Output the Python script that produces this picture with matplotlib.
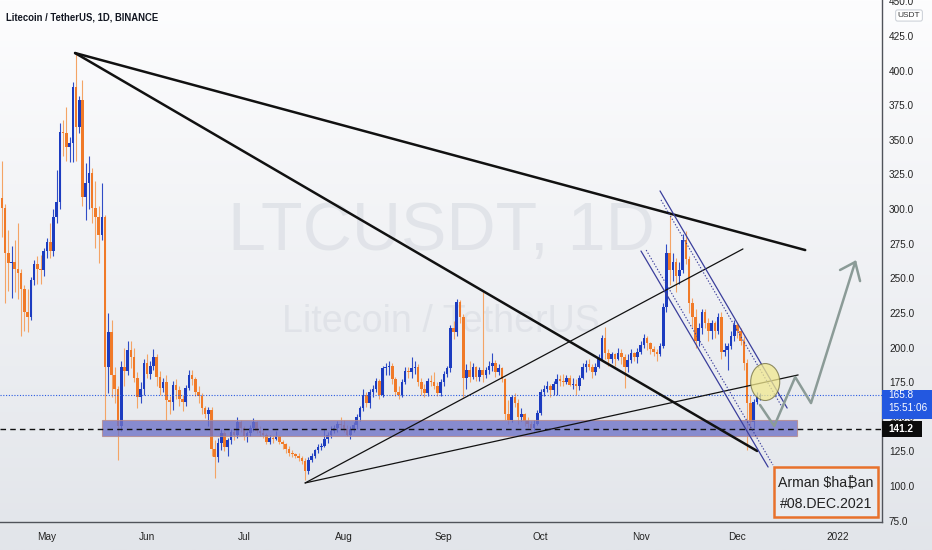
import numpy as np
import pandas as pd
import matplotlib
matplotlib.use("Agg")
import matplotlib.pyplot as plt
from matplotlib.patches import Rectangle, Ellipse
from matplotlib import transforms
from matplotlib import font_manager as fm

# ---------------- data (LTC/USDT daily) ----------------
start_date = "2021-04-17"
end_date = "2021-12-08"
first_open = 308.0

closes = [
    # Apr 17-30
    301, 268, 261, 262, 257, 254, 242, 226, 222, 249, 260, 257, 256, 270,
    # May
    276, 270, 294, 305, 356, 355, 345, 348, 388, 359, 379, 309, 319, 326, 301, 294,
    281, 294, 186, 211, 180, 170, 143, 186, 183, 198, 193, 178, 164, 170, 189,
    # Jun
    181, 187, 193, 179, 171, 175, 162, 161, 173, 169, 163, 161, 171, 180, 177, 168,
    165, 156, 152, 155, 127, 121, 131, 138, 128, 133, 139, 137, 146, 142,
    # Jul
    136, 138, 142, 146, 140, 138, 137, 132, 135, 134, 136, 132, 130, 127, 124, 123,
    122, 120, 118, 111, 119, 122, 126, 128, 129, 134, 137, 140, 142, 145, 144,
    # Aug
    141, 137, 141, 144, 150, 156, 166, 160, 168, 170, 176, 166, 185, 186, 187, 177,
    168, 166, 175, 183, 182, 185, 186, 175, 170, 167, 176, 175, 172, 167, 175,
    # Sep
    181, 185, 214, 211, 233, 222, 178, 184, 179, 186, 179, 184, 180, 184, 187, 189,
    182, 185, 177, 152, 148, 164, 160, 150, 152, 147, 145, 142, 145, 153,
    # Oct
    168, 170, 172, 169, 174, 177, 176, 175, 178, 173, 174, 172, 178, 186, 188, 186,
    182, 186, 192, 207, 196, 192, 195, 192, 196, 193, 186, 191, 196, 193, 197,
    # Nov
    202, 207, 203, 199, 197, 195, 201, 229, 268, 256, 262, 252, 256, 278, 264, 232,
    222, 205, 214, 226, 218, 212, 218, 212, 222, 197, 198, 201, 208, 216,
    # Dec 1-8
    212, 205, 189, 160, 146, 161, 164, 165.8,
]

highs = [
    335, 304, 285, 273, 278, 290, 257, 245, 242, 251, 263, 266, 267, 272,
    279, 290, 300, 328, 362, 364, 374, 352, 392, 413, 382, 393, 333, 338, 330, 320,
    302, 319, 296, 225, 220, 186, 172, 190, 200, 205, 205, 200, 182, 175, 192,
    195, 190, 199, 195, 183, 178, 180, 165, 176, 177, 172, 166, 173, 184, 184, 179,
    172, 167, 158, 157, 157, 133, 135, 141, 140, 135, 141, 142, 150, 148,
    143, 140, 144, 149, 147, 143, 141, 138, 137, 137, 140, 137, 133, 131, 129, 126,
    124, 124, 122, 120, 121, 124, 127, 130, 131, 141, 139, 143, 144, 147, 150,
    148, 144, 143, 146, 152, 158, 170, 168, 170, 173, 178, 177, 187, 189, 190, 189,
    179, 172, 177, 186, 186, 193, 190, 188, 178, 174, 178, 180, 182, 175, 177,
    183, 187, 216, 219, 235, 234, 224, 188, 190, 189, 187, 186, 240, 186, 190, 196,
    191, 188, 186, 178, 162, 166, 167, 163, 156, 153, 150, 147, 148, 155,
    170, 173, 176, 174, 176, 181, 180, 181, 180, 180, 178, 177, 180, 189, 191, 192,
    188, 189, 195, 209, 215, 199, 197, 196, 200, 199, 195, 195, 199, 197, 200,
    205, 210, 208, 204, 201, 199, 203, 232, 275, 296, 268, 265, 262, 282, 284, 266,
    236, 228, 218, 228, 228, 221, 220, 219, 225, 226, 203, 203, 212, 220,
    218, 214, 208, 192, 166, 163, 168, 167,
]

lows = [
    280, 232, 241, 236, 240, 235, 208, 212, 211, 220, 245, 246, 246, 252,
    265, 265, 266, 290, 300, 338, 335, 334, 334, 335, 355, 302, 292, 300, 290, 272,
    261, 278, 148, 167, 164, 160, 119, 140, 172, 180, 185, 175, 156, 160, 166,
    178, 177, 184, 172, 166, 168, 148, 152, 155, 163, 158, 154, 158, 169, 173, 165,
    160, 152, 149, 143, 122, 106, 117, 126, 125, 122, 130, 133, 135, 139,
    133, 132, 136, 140, 138, 136, 135, 130, 130, 131, 133, 130, 127, 124, 122, 121,
    120, 118, 116, 104, 109, 117, 120, 124, 126, 128, 131, 135, 138, 139, 141,
    139, 136, 134, 139, 141, 147, 154, 157, 156, 164, 168, 163, 164, 180, 180, 174,
    165, 163, 164, 174, 178, 178, 181, 172, 166, 164, 165, 172, 170, 165, 165,
    172, 179, 182, 206, 208, 218, 164, 170, 175, 177, 176, 176, 175, 178, 181, 183,
    179, 180, 175, 148, 145, 146, 157, 145, 147, 143, 142, 140, 140, 144,
    151, 165, 168, 164, 166, 166, 172, 172, 174, 172, 170, 166, 169, 177, 182, 184,
    178, 180, 185, 191, 192, 187, 189, 187, 191, 188, 171, 182, 189, 190, 189,
    195, 200, 198, 195, 194, 190, 194, 200, 226, 245, 248, 240, 246, 254, 260, 225,
    215, 200, 201, 210, 214, 205, 206, 207, 210, 192, 194, 184, 199, 205,
    207, 202, 184, 126, 141, 142, 159, 162,
]

month_ticks = ["2021-05-01", "2021-06-01", "2021-07-01", "2021-08-01", "2021-09-01",
               "2021-10-01", "2021-11-01", "2021-12-01", "2022-01-01"]
month_labels = ["May", "Jun", "Jul", "Aug", "Sep", "Oct", "Nov", "Dec", "2022"]
price_ticks = [75, 100, 125, 150, 175, 200, 225, 250, 275, 300, 325, 350, 375, 400, 425, 450]

last_price = 165.8
support_level = 141.2
countdown = "15:51:06"

# drawings (day index from 2021-05-01, price)
upper_trend = [(8.7, 412.7), (235.0, 270.4)]
lower_trend = [(8.7, 412.7), (220.1, 125.3)]
rising_line_1 = [(80.0, 102.2), (215.7, 271.2)]
rising_line_2 = [(80.0, 102.2), (232.8, 180.2)]
channel_solid = [[(190.0, 313.1), (229.4, 156.3)], [(184.1, 269.7), (223.5, 113.7)]]
channel_dotted = [[(190.3, 306.6), (227.8, 157.1)], [(185.7, 270.4), (225.0, 115.2)]]
projection_path = [(221.0, 158.5), (225.4, 143.3), (231.9, 178.7), (236.8, 159.9), (250.5, 261.8)]
arrow_barbs = [(245.8, 256.0), (252.0, 248.0)]
zone = (17.0, 232.5, 136.1, 147.7)          # day0, day1, low, high
circle = (222.6, 175.1, 9.0, 26.7)          # day, price, width(days), height(price)
note_box = (225.4, 257.6, 77.6, 113.7)

# ---------------- fonts ----------------
avail = {f.name for f in fm.fontManager.ttflist}
if "Liberation Sans Narrow" in avail:
    NARROW, k = "Liberation Sans Narrow", 1.0
else:
    NARROW, k = "Liberation Sans", 0.86
FAM = [NARROW, "DejaVu Sans"]

# ---------------- build ----------------
dates = pd.date_range(start_date, end_date, freq="D")
ref = pd.Timestamp("2021-05-01")
xd = np.array([(d - ref).days for d in dates], dtype=float)
c = np.array(closes, dtype=float)
h = np.array(highs, dtype=float)
l = np.array(lows, dtype=float)
o = np.concatenate([[first_open], c[:-1]])
h = np.maximum(h, np.maximum(o, c))
l = np.minimum(l, np.minimum(o, c))
up = c >= o

W, H = 932, 550
fig = plt.figure(figsize=(W / 100, H / 100), dpi=100)

# gradient background
bg = fig.add_axes([0, 0, 1, 1], zorder=0)
top = np.array([253, 253, 254]) / 255
bot = np.array([226, 229, 234]) / 255
t = np.linspace(0, 1, 256)[:, None]
grad = (top[None, :] * (1 - t) + bot[None, :] * t)[:, None, :]
bg.imshow(grad, aspect="auto", extent=[0, 1, 0, 1])
bg.axis("off")

ax = fig.add_axes([0, 28 / H, 882 / W, 522 / H], zorder=1)
ax.set_facecolor("none")
ax.set_xlim(-14.57, 258.8)
ax.set_ylim(74.0, 451.0)

# watermark
ax.text(0.5, 1 - 250 / 522, "LTCUSDT, 1D", transform=ax.transAxes, ha="center",
        va="baseline", fontsize=57 * k, family=FAM, color="#dcdfe5", alpha=0.75, zorder=0)
ax.text(0.5, 1 - 332 / 522, "Litecoin / TetherUS", transform=ax.transAxes, ha="center",
        va="baseline", fontsize=31.5 * k, family=FAM, color="#dcdfe5", alpha=0.75, zorder=0)

# candles
UP_BODY, DN_BODY = "#1c3cc0", "#f07a28"
UP_WICK, DN_WICK = "#2f4cc6", "#f4a465"
ax.vlines(xd[up], l[up], h[up], color=UP_WICK, lw=0.8, zorder=2)
ax.vlines(xd[~up], l[~up], h[~up], color=DN_WICK, lw=0.8, zorder=2)
body_h = np.maximum(np.abs(c - o), 0.8)
ax.bar(xd, body_h, bottom=np.minimum(o, c), width=0.8,
       color=np.where(up, UP_BODY, DN_BODY), linewidth=0, zorder=3)

# support zone
z0, z1, zl, zh = zone
ax.add_patch(Rectangle((z0, zl), z1 - z0, zh - zl, facecolor="#6f73c8", alpha=0.8,
                       edgecolor="#b88a8a", lw=0.8, zorder=4))

# horizontal price lines
ax.axhline(support_level, color="#111111", lw=1.0, dashes=(4, 3), zorder=5)
ax.axhline(last_price, color="#2b5be0", lw=0.8, ls=(0, (1, 1.5)), zorder=5)

def seg(pts, **kw):
    xs, ys = zip(*pts)
    ax.plot(xs, ys, solid_capstyle="round", **kw)

seg(upper_trend, color="#111111", lw=1.8, zorder=6)
seg(lower_trend, color="#111111", lw=1.8, zorder=6)
seg(rising_line_1, color="#111111", lw=0.9, zorder=6)
seg(rising_line_2, color="#111111", lw=0.9, zorder=6)
for s in channel_solid:
    seg(s, color="#3a3e9c", lw=0.9, zorder=6)
for s in channel_dotted:
    seg(s, color="#3a3e9c", lw=0.8, ls=(0, (1.2, 1.6)), zorder=6)

# yellow circle
cx, cy, cw, ch = circle
ax.add_patch(Ellipse((cx, cy), cw, ch, facecolor="#f2e98f", alpha=0.75,
                     edgecolor="#6e6b3c", lw=0.8, zorder=7))

# projection path with open arrow head
seg(projection_path, color="#8b9b97", lw=1.8, zorder=7)
tip = projection_path[-1]
for b in arrow_barbs:
    seg([b, tip], color="#8b9b97", lw=1.8, zorder=7)

# author note
n0, n1, nl, nh = note_box
ax.add_patch(Rectangle((n0, nl), n1 - n0, nh - nl, facecolor="#e9ecf0",
                       edgecolor="#e8712b", lw=1.8, zorder=8))
ax.text((n0 + n1) / 2, nl + (nh - nl) * 0.70, "Arman $ha\u20bfan", ha="center", va="center",
        fontsize=11.8 * k, family=FAM, color="#222222", zorder=9)
ax.text((n0 + n1) / 2, nl + (nh - nl) * 0.27, "#08.DEC.2021", ha="center", va="center",
        fontsize=11.8 * k, family=FAM, color="#222222", zorder=9)

# title
ax.text(6 / 882, 1 - 21 / 522, "Litecoin / TetherUS, 1D, BINANCE", transform=ax.transAxes,
        ha="left", va="baseline", fontsize=8 * k, fontweight="bold", family=FAM,
        color="#131722", zorder=10)

# axes styling
for sp in ("top", "left"):
    ax.spines[sp].set_visible(False)
for sp in ("right", "bottom"):
    ax.spines[sp].set_color("#50535a")
    ax.spines[sp].set_linewidth(1.0)

ax.yaxis.tick_right()
ax.set_yticks(price_ticks)
ax.set_yticklabels([f"{p:.1f}" for p in price_ticks], family=FAM)
ax.tick_params(axis="y", length=0, pad=5, labelsize=8.4 * k, labelcolor="#222222")

xt = [(pd.Timestamp(m) - ref).days for m in month_ticks]
ax.set_xticks(xt)
ax.set_xticklabels(month_labels, family=FAM)
ax.tick_params(axis="x", length=0, pad=7, labelsize=8.4 * k, labelcolor="#222222")

# right-axis labels
trans = transforms.blended_transform_factory(ax.transAxes, ax.transData)
px = 1 / 882
py = 1 / 1.3846
ax.add_patch(Rectangle((1.0, last_price - 24.0 * py), 52 * px, 29 * py, transform=trans,
                       facecolor="#2358e0", edgecolor="none", clip_on=False, zorder=11))
ax.text(1.0 + 6 * px, last_price, f"{last_price:.1f}", transform=trans, ha="left",
        va="center", fontsize=8.4 * k, family=FAM, color="white", clip_on=False, zorder=12)
ax.text(1.0 + 6 * px, last_price - 13 * py, countdown, transform=trans, ha="left",
        va="center", fontsize=8.4 * k, family=FAM, color="white", clip_on=False, zorder=12)
ax.add_patch(Rectangle((1.0, support_level - 8 * py), 40 * px, 15.5 * py, transform=trans,
                       facecolor="#0b0b0b", edgecolor="none", clip_on=False, zorder=11))
ax.text(1.0 + 6 * px, support_level, f"{support_level:.1f}", transform=trans, ha="left",
        va="center", fontsize=8.4 * k, family=FAM, color="white", fontweight="bold",
        clip_on=False, zorder=12)
ax.text(1.0 + 27 * px, 425 - (15.5 - 36) * py, "USDT", transform=trans, ha="center",
        va="center", fontsize=7.0 * k, family=FAM, color="#333333", clip_on=False, zorder=12,
        bbox=dict(boxstyle="round,pad=0.25", fc="white", ec="#cfd3da", lw=0.8))

fig.savefig("out.png", dpi=100)
